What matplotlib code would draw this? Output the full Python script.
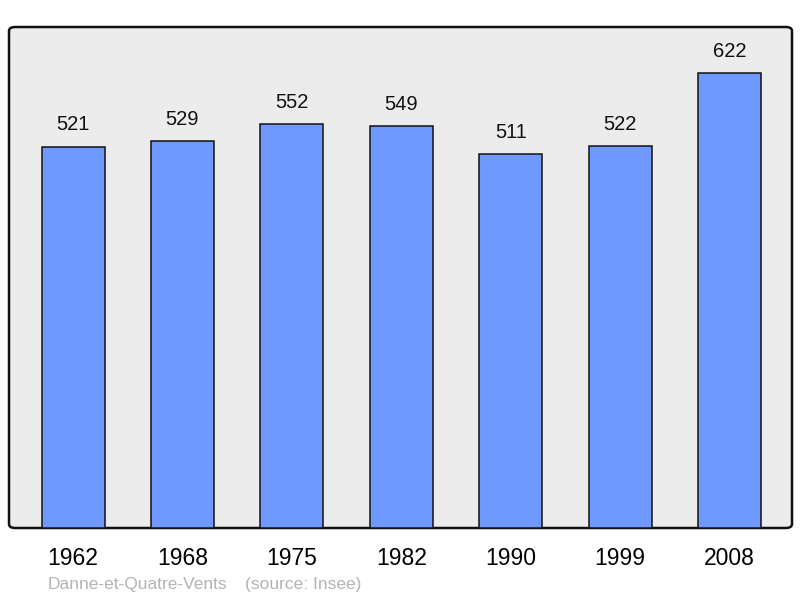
import matplotlib
matplotlib.use("Agg")
import matplotlib.pyplot as plt
from matplotlib.patches import FancyBboxPatch

YEARS = ["1962", "1968", "1975", "1982", "1990", "1999", "2008"]
POPULATION = [521, 529, 552, 549, 511, 522, 622]
TOWN = "Danne-et-Quatre-Vents"
SOURCE = "(source: Insee)"

plt.rcParams["font.family"] = ["Liberation Sans", "DejaVu Sans"]

fig = plt.figure(figsize=(8, 5.98), dpi=100)
ax = fig.add_axes([9 / 800, 70 / 598, 783 / 800, 501 / 598])
ax.set_facecolor("none")

# rounded frame drawn behind the bars
frame = FancyBboxPatch((0, 0), 1, 1,
                       boxstyle="round,pad=0,rounding_size=0.008",
                       transform=ax.transAxes, facecolor="#ececec",
                       edgecolor="#111111", linewidth=1.8, zorder=0,
                       clip_on=False)
ax.add_patch(frame)

x = range(len(YEARS))
bars = ax.bar(x, POPULATION, width=0.576, color="#7099ff",
              edgecolor="#111111", linewidth=1.1, zorder=2)
for rect, val in zip(bars, POPULATION):
    ax.annotate(str(val), (rect.get_x() + rect.get_width() / 2, val),
                xytext=(0, 9), textcoords="offset points",
                ha="center", va="bottom", fontsize=14.5, color="#111111")

ax.set_xlim(-0.585, 6.57)
ax.set_ylim(0, 685)
ax.set_xticks(list(x))
ax.set_xticklabels(YEARS, fontsize=16.5)
ax.tick_params(axis="x", length=0, pad=14)
ax.set_yticks([])
for s in ax.spines.values():
    s.set_visible(False)

fig.text(48 / 800, 13 / 598, TOWN, fontsize=12.5, color="#b4b4b4", va="center")
fig.text(245 / 800, 13 / 598, SOURCE, fontsize=12.5, color="#b4b4b4", va="center")

fig.savefig("out.png", dpi=100)
